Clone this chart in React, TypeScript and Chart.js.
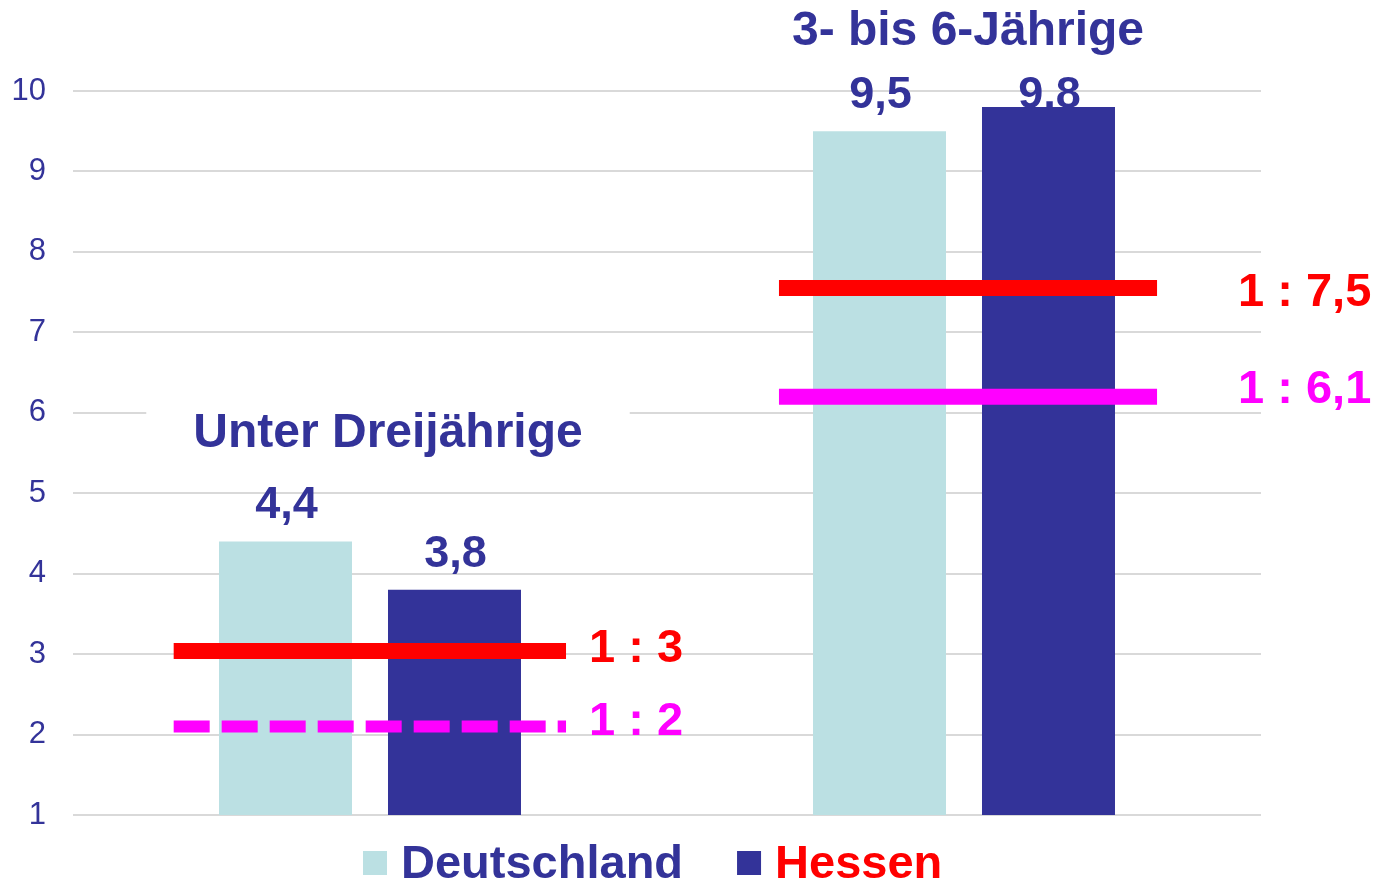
import React, { useEffect, useRef } from "react";
import { Chart, registerables } from "chart.js";

Chart.register(...registerables);

// ---- data ----
const categories = ["Unter Dreijährige", "3- bis 6-Jährige"];
const seriesNames = ["Deutschland", "Hessen"];
const deutschland = [4.4, 9.5];
const hessen = [3.8, 9.8];
const ratioRed = [3.04, 7.55];
const ratioRedLabels = ["1 : 3", "1 : 7,5"];
const ratioMagenta = [2.1, 6.2];
const ratioMagentaLabels = ["1 : 2", "1 : 6,1"];
const yMin = 1;
const yMax = 10;
const yStep = 1;

// ---- style ----
const FONT = '"Liberation Sans", Arial, Helvetica, sans-serif';
const NAVY = "#333399";
const LIGHT = "#BBE0E3";
const RED = "#FF0000";
const MAGENTA = "#FF00FF";
const GRID = "#D9D9D9";

const fmt = (v: number) => v.toFixed(1).replace(".", ",");

const overlay = {
  id: "overlay",
  beforeDatasetsDraw(chart: any) {
    const ctx = chart.ctx;
    const area = chart.chartArea;
    ctx.save();
    ctx.font = `bold 45px ${FONT}`;
    ctx.fillStyle = NAVY;
    ctx.textAlign = "center";
    ctx.textBaseline = "alphabetic";
    chart.data.datasets.forEach((ds: any, i: number) => {
      const meta = chart.getDatasetMeta(i);
      meta.data.forEach((bar: any, j: number) => {
        const y = Math.max(bar.y - 23, area.top + 17);
        ctx.fillText(fmt(ds.data[j]), bar.x + 1, y);
      });
    });
    ctx.restore();
  },
  afterDatasetsDraw(chart: any) {
    const ctx = chart.ctx;
    const xs = chart.scales.x;
    const ys = chart.scales.y;
    const catW = (xs.right - xs.left) / categories.length;
    const extents = [
      [-0.3305, 0.33],
      [-0.3115, 0.325],
    ];
    const labelGap = [23, 81];
    const redDy = [11, 18];
    const magDy = [8, 6];
    const dashed = [true, false];
    ctx.save();
    categories.forEach((_, i) => {
      const cx = xs.getPixelForValue(i);
      const x0 = cx + extents[i][0] * catW;
      const x1 = cx + extents[i][1] * catW;
      // red line
      const yr = ys.getPixelForValue(ratioRed[i]);
      ctx.lineCap = "butt";
      ctx.setLineDash([]);
      ctx.strokeStyle = RED;
      ctx.lineWidth = 16;
      ctx.beginPath();
      ctx.moveTo(x0, yr);
      ctx.lineTo(x1, yr);
      ctx.stroke();
      // magenta line
      const ym = ys.getPixelForValue(ratioMagenta[i]);
      ctx.strokeStyle = MAGENTA;
      if (dashed[i]) {
        ctx.lineWidth = 12;
        ctx.setLineDash([36, 12]);
      } else {
        ctx.lineWidth = 16;
        ctx.setLineDash([]);
      }
      ctx.beginPath();
      ctx.moveTo(x0, ym);
      ctx.lineTo(x1, ym);
      ctx.stroke();
      ctx.setLineDash([]);
      // labels
      ctx.font = `bold 47px ${FONT}`;
      ctx.textAlign = "left";
      ctx.textBaseline = "alphabetic";
      ctx.fillStyle = RED;
      ctx.fillText(ratioRedLabels[i], x1 + labelGap[i], yr + redDy[i]);
      ctx.fillStyle = MAGENTA;
      ctx.fillText(ratioMagentaLabels[i], x1 + labelGap[i], ym + magDy[i]);
    });

    // category titles
    const titleLevel = [5.575, 10.57];
    const titleDx = [18, 4];
    ctx.font = `bold 48px ${FONT}`;
    ctx.textAlign = "center";
    ctx.textBaseline = "alphabetic";
    categories.forEach((name, i) => {
      const tx = xs.getPixelForValue(i) + titleDx[i];
      const ty = ys.getPixelForValue(titleLevel[i]);
      const w = ctx.measureText(name).width;
      ctx.fillStyle = "#FFFFFF";
      ctx.fillRect(tx - w / 2 - 47, ty - 50, w + 94, 66);
      ctx.fillStyle = NAVY;
      ctx.fillText(name, tx, ty);
    });

    // legend
    const textColors = [NAVY, RED];
    ctx.font = `bold 47px ${FONT}`;
    ctx.textAlign = "left";
    let lx = 363;
    const baseY = 878;
    chart.data.datasets.forEach((ds: any, i: number) => {
      ctx.fillStyle = ds.backgroundColor;
      ctx.fillRect(lx, 851, 24, 24);
      lx += 24 + 14;
      ctx.fillStyle = textColors[i];
      ctx.fillText(ds.label, lx, baseY);
      lx += ctx.measureText(ds.label).width + 54;
    });
    ctx.restore();
  },
};

export default function App() {
  const ref = useRef<HTMLCanvasElement | null>(null);
  useEffect(() => {
    if (!ref.current) return;
    const chart = new Chart(ref.current, {
      type: "bar",
      data: {
        labels: categories,
        datasets: [
          {
            label: seriesNames[0],
            data: deutschland,
            backgroundColor: LIGHT,
            borderWidth: 0,
            categoryPercentage: 0.569,
            barPercentage: 0.787,
          },
          {
            label: seriesNames[1],
            data: hessen,
            backgroundColor: NAVY,
            borderWidth: 0,
            categoryPercentage: 0.569,
            barPercentage: 0.787,
          },
        ],
      },
      options: {
        animation: false,
        responsive: true,
        maintainAspectRatio: false,
        layout: { padding: { top: 91, bottom: 68, left: 1, right: 120 } },
        plugins: {
          legend: { display: false },
          tooltip: { enabled: false },
          title: { display: false },
        },
        scales: {
          x: { display: false, grid: { display: false } },
          y: {
            min: yMin,
            max: yMax,
            afterFit: (s: any) => {
              s.width = 72;
            },
            ticks: {
              stepSize: yStep,
              padding: 27,
              color: NAVY,
              font: { size: 31, family: FONT },
            },
            grid: { color: GRID, lineWidth: 2, drawTicks: false },
            border: { display: false },
          },
        },
      },
      plugins: [overlay],
    });
    return () => chart.destroy();
  }, []);
  return (
    <div
      style={{
        position: "fixed",
        left: 0,
        top: 0,
        width: 1381,
        height: 883,
        background: "#FFFFFF",
      }}
    >
      <canvas ref={ref} />
    </div>
  );
}
